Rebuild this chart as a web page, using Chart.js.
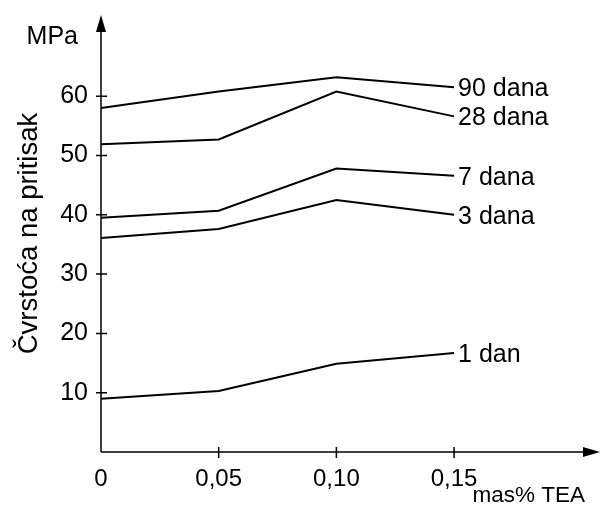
<!DOCTYPE html>
<html>
<head>
<meta charset="utf-8">
<script src="https://cdn.jsdelivr.net/npm/chart.js@4/dist/chart.umd.min.js"></script>
<style>html,body{margin:0;background:#fff}</style>
</head>
<body>
<canvas id="chart" width="602" height="508"></canvas>
<script>
const xValues = [0, 0.05, 0.10, 0.15];
const xTickLabels = ['0', '0,05', '0,10', '0,15'];
const yTicks = [10, 20, 30, 40, 50, 60];
const seriesLabels = ['90 dana', '28 dana', '7 dana', '3 dana', '1 dan'];
const dana90 = [58.0, 60.8, 63.2, 61.5];
const dana28 = [51.9, 52.7, 60.8, 56.6];
const dana7 = [39.5, 40.7, 47.8, 46.6];
const dana3 = [36.1, 37.6, 42.5, 40.0];
const dan1 = [9.0, 10.3, 14.9, 16.7];

const FONT = '"Liberation Sans", Arial, sans-serif';
const allSeries = [dana90, dana28, dana7, dana3, dan1];

// osi sa strelicama, crtice i tekstovi na krajevima linija
const axesPlugin = {
  id: 'axesPlugin',
  afterDatasetsDraw(chart) {
    const { ctx, chartArea: a, scales: { x, y } } = chart;
    const x0 = x.getPixelForValue(0);
    const y0 = y.getPixelForValue(0);
    ctx.save();
    ctx.strokeStyle = '#000';
    ctx.fillStyle = '#000';
    ctx.lineWidth = 1.5;
    ctx.beginPath();
    ctx.moveTo(x0, y0);
    ctx.lineTo(x0, a.top + 10);
    ctx.moveTo(x0, y0);
    ctx.lineTo(a.right - 10, y0);
    yTicks.forEach(v => {
      const py = y.getPixelForValue(v);
      ctx.moveTo(x0 - 5, py);
      ctx.lineTo(x0 + 6, py);
    });
    xValues.slice(1).forEach(v => {
      const px = x.getPixelForValue(v);
      ctx.moveTo(px, y0 - 5);
      ctx.lineTo(px, y0 + 6);
    });
    ctx.stroke();
    ctx.beginPath();
    ctx.moveTo(x0, a.top);
    ctx.lineTo(x0 - 5, a.top + 17);
    ctx.lineTo(x0 + 5, a.top + 17);
    ctx.closePath();
    ctx.moveTo(a.right, y0);
    ctx.lineTo(a.right - 17, y0 - 5);
    ctx.lineTo(a.right - 17, y0 + 5);
    ctx.closePath();
    ctx.fill();

    ctx.font = '25px ' + FONT;
    ctx.textBaseline = 'middle';
    ctx.textAlign = 'right';
    ctx.fillText('MPa', x0 - 23, a.top + 22);
    ctx.font = '22.5px ' + FONT;
    ctx.fillText('mas% TEA', a.right - 15, y0 + 44);

    ctx.font = '25px ' + FONT;
    ctx.textAlign = 'left';
    chart.data.datasets.forEach((ds, i) => {
      const pts = chart.getDatasetMeta(i).data;
      const p = pts[pts.length - 1];
      ctx.fillText(ds.label, p.x + 4, p.y + 2);
    });
    ctx.restore();
  }
};

const ctx = document.getElementById('chart').getContext('2d');
const myChart = new Chart(ctx, {
  type: 'line',
  data: {
    datasets: allSeries.map((s, i) => ({
      label: seriesLabels[i],
      data: s.map((v, j) => ({ x: xValues[j], y: v })),
      borderColor: '#000',
      borderWidth: 2,
      pointRadius: 0,
      tension: 0,
      fill: false,
    })),
  },
  options: {
    responsive: false,
    animation: false,
    layout: { padding: { top: 15, right: 2, left: 0, bottom: 0 } },
    plugins: {
      legend: { display: false },
      tooltip: { enabled: false },
    },
    scales: {
      x: {
        type: 'linear',
        min: 0,
        max: 0.212,
        grid: { display: false, drawTicks: false },
        border: { display: false },
        afterBuildTicks: scale => { scale.ticks = xValues.map(v => ({ value: v })); },
        afterFit: scale => {
          scale.height = 56;
          scale.paddingLeft = 0;
          scale.paddingRight = 0;
        },
        ticks: {
          color: '#000',
          font: { family: FONT, size: 24 },
          padding: 13,
          maxRotation: 0,
          callback: (v, i) => xTickLabels[i],
        },
      },
      y: {
        min: 0,
        max: 73.7,
        grid: { display: false, drawTicks: false },
        border: { display: false },
        afterBuildTicks: scale => { scale.ticks = yTicks.map(v => ({ value: v })); },
        afterFit: scale => {
          scale.width = 101;
          scale.paddingTop = 0;
          scale.paddingBottom = 0;
        },
        ticks: {
          color: '#000',
          font: { family: FONT, size: 25 },
          padding: 13,
        },
        title: {
          display: true,
          text: 'Čvrstoća na pritisak',
          color: '#000',
          font: { family: FONT, size: 27.5 },
          padding: { top: 13, bottom: 0 },
        },
      },
    },
  },
  plugins: [axesPlugin],
});
</script>
</body>
</html>
